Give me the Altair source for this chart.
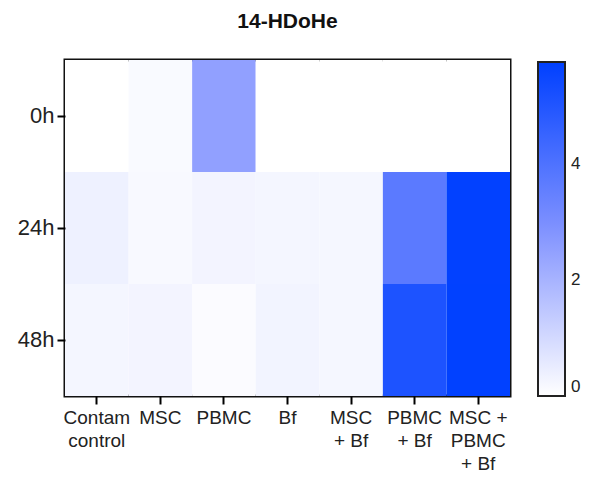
import altair as alt
import pandas as pd

conditions = ["Contam\ncontrol", "MSC", "PBMC", "Bf", "MSC\n+ Bf", "PBMC\n+ Bf", "MSC +\nPBMC\n+ Bf"]
timepoints = ["0h", "24h", "48h"]
values_0h = [0.0, 0.13, 2.5, 0.0, 0.0, 0.0, 0.0]
values_24h = [0.38, 0.15, 0.28, 0.25, 0.22, 3.7, 5.7]
values_48h = [0.24, 0.28, 0.1, 0.3, 0.22, 5.1, 5.72]
color_ticks = [0, 2, 4]

rows = []
for t, vals in zip(timepoints, [values_0h, values_24h, values_48h]):
    for c, v in zip(conditions, vals):
        rows.append({"cond": c, "time": t, "value": v})
df = pd.DataFrame(rows)

chart = alt.Chart(df).mark_rect().encode(
    x=alt.X("cond:N", sort=conditions, title=None,
            axis=alt.Axis(labelAngle=0, labelExpr="split(datum.label, '\\n')",
                          labelFontSize=19, labelLineHeight=23, labelColor="#222",
                          labelFont="Liberation Sans", tickColor="black", tickWidth=2,
                          tickSize=8, domain=False, labelPadding=4, labelBaseline="top")),
    y=alt.Y("time:N", sort=timepoints, title=None,
            axis=alt.Axis(labelFontSize=22, labelColor="#222", labelFont="Liberation Sans",
                          tickColor="black", tickWidth=2, tickSize=8, domain=False,
                          labelPadding=3)),
    color=alt.Color("value:Q",
                    scale=alt.Scale(domain=[0, 2.875, 5.75],
                                    range=["#ffffff", "#8092ff", "#0040ff"],
                                    interpolate="rgb"),
                    legend=alt.Legend(title=None, orient="none", legendX=473, legendY=2,
                                      direction="vertical", gradientLength=334,
                                      gradientThickness=27, gradientStrokeColor="#222",
                                      gradientStrokeWidth=2, values=color_ticks,
                                      labelFontSize=17, labelFont="Liberation Sans",
                                      labelColor="#222", labelOffset=6)),
).properties(
    width=445,
    height=336,
    title=alt.TitleParams("14-HDoHe", fontSize=21, font="Liberation Sans",
                          fontWeight="bold", color="#111", offset=28, anchor="middle"),
    autosize=alt.AutoSizeParams(type="none"),
    padding={"left": 57, "top": 52, "right": 72, "bottom": 83},
).configure_view(stroke="#111", strokeWidth=3)

chart.save("out.html", embed_options={"renderer": "svg", "actions": False})
